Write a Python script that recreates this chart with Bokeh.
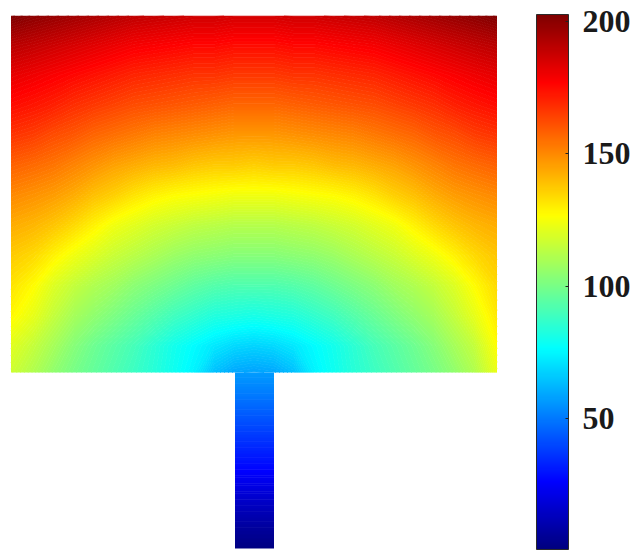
import numpy as np
from bokeh.plotting import figure
from bokeh.models import BoxAnnotation, ColorBar, LinearColorMapper, FixedTicker, Range1d
from bokeh.embed import file_html
from bokeh.resources import INLINE

# Field. Rows run top to bottom, columns from the axis of
# symmetry (stem centre) out to the left edge of the upper block.
column_offsets = [0, 20, 40, 60, 80, 100, 120, 140, 160, 180, 200, 220, 243]
row_heights = [357, 327, 297, 267, 237, 207, 177, 147, 117, 87, 57, 27, 0]
block_half_rows = [
    [186, 186, 187, 187, 188, 189, 190, 192, 194, 196, 198, 200, 203],
    [175, 175, 176, 176, 177, 178, 179, 181, 183, 185, 187, 189, 191],
    [166, 166, 167, 167, 168, 169, 170, 172, 174, 176, 178, 180, 182],
    [157, 157, 158, 159, 160, 161, 162, 164, 166, 168, 171, 173, 175],
    [147, 147, 148, 149, 150, 151, 153, 155, 157, 160, 162, 165, 167],
    [136, 137, 137, 138, 140, 141, 143, 145, 148, 151, 154, 156, 158],
    [124, 124, 125, 126, 127, 129, 132, 136, 139, 143, 146, 148, 150],
    [112, 112, 113, 114, 116, 118, 121, 124, 129, 134, 138, 141, 143],
    [103, 103, 104, 105, 107, 110, 113, 116, 120, 124, 129, 134, 137],
    [92, 92, 93, 95, 98, 101, 104, 108, 111, 115, 120, 127, 132],
    [81, 82, 83, 86, 89, 93, 97, 101, 105, 109, 115, 122, 128],
    [68, 69, 72, 76, 80, 85, 90, 94, 98, 103, 109, 115, 121],
    [58, 59, 64, 74, 79, 84, 88, 92, 96, 100, 105, 111, 117],
]
# The right edge of the block reads a little warmer than the left one.
right_edge_values = [203, 191, 182, 175, 167, 158, 150, 143, 138, 134, 131, 127, 123]
stem_heights = [0, -16, -32, -48, -64, -80, -96, -112, -128, -144, -160, -176]
stem_values = [57, 52, 47, 42, 37, 32, 27, 21, 15, 10, 5, 1]
colorbar_ticks = [50, 100, 150, 200]
value_low, value_high = 0.6, 202.5

jet_stops = [(0, 0, 128), (0, 0, 255), (0, 255, 255), (255, 255, 0), (255, 0, 0), (128, 0, 0)]
jet_pos = [0, 0.125, 0.375, 0.625, 0.875, 1]


def jet_at(t):
    ch = [np.interp(t, jet_pos, [s[i] for s in jet_stops]) for i in range(3)]
    return ["#%02x%02x%02x" % (int(r), int(g), int(b)) for r, g, b in zip(*ch)]


jet = jet_at(np.linspace(0, 1, 256))

half = np.array(block_half_rows, dtype=float)
right = half[:, 1:].copy()
right[:, -1] = right_edge_values
block = np.hstack([half[:, :0:-1], half[:, :1], right])
offsets = np.array(column_offsets, dtype=float)
block_x = np.concatenate([-offsets[:0:-1], offsets])
block_y = np.array(row_heights, dtype=float)

stem_x = np.array([-19.0, 20.0])
stem_y = np.array(stem_heights, dtype=float)
stem = np.array([stem_values, stem_values], dtype=float).T

W, H = 643, 560
p = figure(width=W, height=H, output_backend="svg", toolbar_location=None,
           x_range=Range1d(-253.5, 389.5), y_range=Range1d(-188, 372),
           min_border=0, outline_line_color=None)
p.axis.visible = False
p.grid.visible = False

# Levels sit between the whole-number readings so that flat runs stay clean.
levels = np.arange(-0.5, 206.0, 1.0)
mids = (levels[:-1] + levels[1:]) / 2
fills = jet_at(np.clip((mids - value_low) / (value_high - value_low), 0, 1))
lines = jet_at(np.clip((levels - value_low) / (value_high - value_low), 0, 1))

# Flip rows so that y ascends, as contouring expects.
p.contour(block_x, block_y[::-1], block[::-1], levels, fill_color=fills, line_color=lines, line_width=1)
p.contour(stem_x, stem_y[::-1], stem[::-1], levels, fill_color=fills, line_color=lines, line_width=1)

# Trim the sub-pixel line ends that poke above the block's top edge.
p.add_layout(BoxAnnotation(left=-253.5, right=260, bottom=357, top=372,
                           fill_color="white", fill_alpha=1, line_color=None, level="overlay"))

mapper = LinearColorMapper(palette=jet, low=value_low, high=value_high)
bar = ColorBar(color_mapper=mapper, ticker=FixedTicker(ticks=colorbar_ticks),
               width=32, height=535, location=(536, 11), padding=0,
               background_fill_alpha=0, border_line_color=None,
               bar_line_color="#2b2b2b", bar_line_width=1,
               major_tick_line_color="#222222", major_tick_in=3, minor_tick_line_color=None,
               major_label_text_font="Liberation Serif", major_label_text_font_style="bold",
               major_label_text_font_size="32px", major_label_text_color="#1a1a1a",
               label_standoff=14)
p.add_layout(bar, "center")

open("out.html", "w").write(file_html(p, INLINE))
